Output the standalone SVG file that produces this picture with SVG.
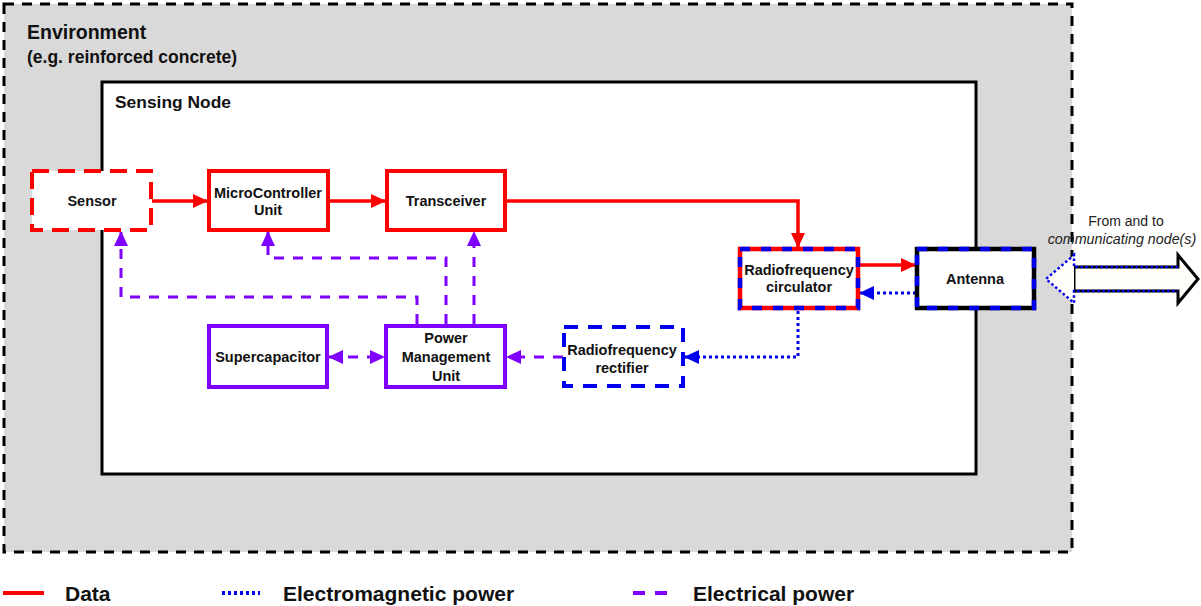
<svg xmlns="http://www.w3.org/2000/svg" width="1201" height="606" viewBox="0 0 1201 606">
<style>
.t{font-family:"Liberation Sans",Arial,sans-serif;font-weight:bold;fill:#111;}
.lbl{font-size:14.5px;text-anchor:middle;}
.red{stroke:#ff0000;stroke-width:3.5;fill:none;}
.pur{stroke:#7f00ff;stroke-width:3;fill:none;stroke-dasharray:10 9;}
.blu{stroke:#0000ee;stroke-width:3;fill:none;stroke-dasharray:3 3;}
</style>
<defs>
<marker id="ar" markerUnits="userSpaceOnUse" markerWidth="16" markerHeight="16" refX="14" refY="8" orient="auto"><path d="M0,1 L15,8 L0,15 Z" fill="#ff0000"/></marker>
<marker id="ap" markerUnits="userSpaceOnUse" markerWidth="16" markerHeight="16" refX="14" refY="8" orient="auto"><path d="M0,1 L15,8 L0,15 Z" fill="#7f00ff"/></marker>
<marker id="aps" markerUnits="userSpaceOnUse" markerWidth="16" markerHeight="16" refX="1" refY="8" orient="auto"><path d="M15,1 L0,8 L15,15 Z" fill="#7f00ff"/></marker>
<marker id="ab" markerUnits="userSpaceOnUse" markerWidth="16" markerHeight="16" refX="14" refY="8" orient="auto"><path d="M0,1 L15,8 L0,15 Z" fill="#0000ee"/></marker>
</defs>

<g id="environment">
<rect x="4" y="4" width="1068" height="548" fill="#d9d9d9" stroke="#000" stroke-width="3" stroke-dasharray="10 8"/>
<text class="t" x="27" y="39" font-size="19.5">Environment</text>
<text class="t" x="27" y="63" font-size="17.5">(e.g. reinforced concrete)</text>
</g>

<g id="sensing-node">
<rect x="102" y="82" width="874" height="392" fill="#fff" stroke="#000" stroke-width="3"/>
<text class="t" x="115" y="108" font-size="17.4">Sensing Node</text>
</g>

<g id="external-arrow">
<path d="M1074,267 H1178 V255 L1198,279 L1178,303 V291 H1074 Z" fill="#fffdf8" stroke="#000" stroke-width="3" stroke-linejoin="miter"/>
<path d="M1074,267 V255 L1046,279 L1074,303 V291" fill="#fffdf8" stroke="none"/>
<path d="M1178,267 H1074 V255 L1046,279 L1074,303 V291 H1178" fill="none" stroke="#0000ee" stroke-width="2.5" stroke-dasharray="2.5 2.5"/>
<text x="1126" y="226" font-family="'Liberation Sans',Arial,sans-serif" font-size="14" text-anchor="middle" fill="#222">From and to</text>
<text x="1122" y="244" font-family="'Liberation Sans',Arial,sans-serif" font-size="14.3" font-style="italic" text-anchor="middle" fill="#222">communicating node(s)</text>
</g>

<g id="connectors">
<line class="red" x1="152" y1="201" x2="207" y2="201" marker-end="url(#ar)"/>
<line class="red" x1="328" y1="201" x2="385" y2="201" marker-end="url(#ar)"/>
<path class="red" d="M505,201 H798 V247" marker-end="url(#ar)"/>
<line class="red" x1="858" y1="265" x2="915" y2="265" marker-end="url(#ar)"/>
<line class="blu" x1="916" y1="293" x2="860" y2="293" marker-end="url(#ab)"/>
<path class="blu" d="M798,311 V357 H685" marker-end="url(#ab)"/>
<line class="pur" x1="563" y1="357" x2="507" y2="357" marker-end="url(#ap)"/>
<line class="pur" x1="329" y1="357" x2="384" y2="357" marker-start="url(#aps)" marker-end="url(#ap)"/>
<path class="pur" d="M474,324 V232" marker-end="url(#ap)"/>
<path class="pur" d="M446,324 V258 H268 V232" marker-end="url(#ap)"/>
<path class="pur" d="M417,324 V297 H121 V232" marker-end="url(#ap)"/>
</g>

<g id="sensor">
<rect x="32" y="171" width="119" height="59" fill="#fff" stroke="#ff0000" stroke-width="4" stroke-dasharray="17 9"/>
<text class="t lbl" x="92" y="206">Sensor</text>
</g>
<g id="mcu">
<rect x="209" y="171" width="119" height="59" fill="#fff" stroke="#ff0000" stroke-width="4"/>
<text class="t lbl" x="268" y="198">MicroController</text>
<text class="t lbl" x="268" y="215">Unit</text>
</g>
<g id="transceiver">
<rect x="387" y="171" width="118" height="59" fill="#fff" stroke="#ff0000" stroke-width="4"/>
<text class="t lbl" x="446" y="206">Transceiver</text>
</g>
<g id="circulator">
<rect x="740" y="249" width="118" height="59" fill="#fff" stroke="#ff0000" stroke-width="4.5"/>
<rect x="740" y="249" width="118" height="59" fill="none" stroke="#0000ee" stroke-width="4.5" stroke-dasharray="10 11"/>
<text class="t lbl" x="799" y="275">Radiofrequency</text>
<text class="t lbl" x="799" y="292">circulator</text>
</g>
<g id="antenna">
<rect x="917" y="249" width="117" height="59" fill="#fff" stroke="#000" stroke-width="4.5"/>
<rect x="917" y="249" width="117" height="59" fill="none" stroke="#0000ee" stroke-width="4.5" stroke-dasharray="10 11"/>
<text class="t lbl" x="975" y="284">Antenna</text>
</g>
<g id="supercapacitor">
<rect x="209" y="326" width="118" height="61" fill="#fff" stroke="#7f00ff" stroke-width="4"/>
<text class="t lbl" x="268" y="362">Supercapacitor</text>
</g>
<g id="pmu">
<rect x="386" y="326" width="119" height="61" fill="#fff" stroke="#7f00ff" stroke-width="4"/>
<text class="t lbl" x="446" y="343">Power</text>
<text class="t lbl" x="446" y="362">Management</text>
<text class="t lbl" x="446" y="381">Unit</text>
</g>
<g id="rectifier">
<rect x="564" y="327" width="119" height="59" fill="#fff" stroke="#0000ee" stroke-width="4" stroke-dasharray="14 10"/>
<text class="t lbl" x="622" y="355">Radiofrequency</text>
<text class="t lbl" x="622" y="373">rectifier</text>
</g>

<g id="legend">
<line x1="3" y1="593" x2="44" y2="593" stroke="#ff0000" stroke-width="4"/>
<text class="t" x="65" y="601" font-size="21">Data</text>
<line x1="222" y1="593" x2="260" y2="593" stroke="#0000ee" stroke-width="4" stroke-dasharray="3 3"/>
<text class="t" x="283" y="601" font-size="21">Electromagnetic power</text>
<line x1="633" y1="593" x2="670" y2="593" stroke="#7f00ff" stroke-width="4" stroke-dasharray="12 10"/>
<text class="t" x="693" y="601" font-size="21">Electrical power</text>
</g>
</svg>
